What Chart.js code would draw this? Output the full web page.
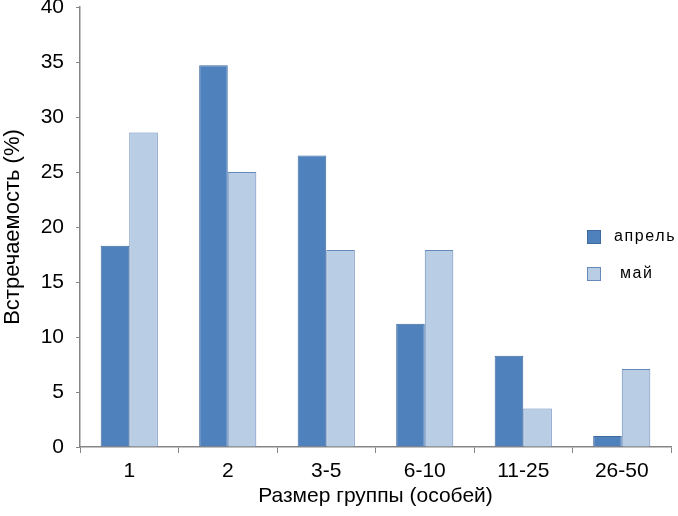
<!DOCTYPE html>
<html>
<head>
<meta charset="utf-8">
<script src="https://cdn.jsdelivr.net/npm/chart.js@4.4.1/dist/chart.umd.min.js"></script>
<style>
  html, body { margin: 0; padding: 0; background: #fff; }
  #wrap { width: 678px; height: 516px; }
</style>
</head>
<body>
<div id="wrap"><canvas id="groupChart"></canvas></div>
<script>
// Group sizes on the x axis
const categories = ['1', '2', '3-5', '6-10', '11-25', '26-50'];
// Frequency (%) per month
const aprilValues = [18.3, 34.7, 26.5, 11.2, 8.3, 1.0];
const mayValues = [28.6, 25.0, 17.9, 17.9, 3.5, 7.1];
const seriesNames = ['апрель', 'май'];

const FONT = '"Liberation Sans", Arial, sans-serif';
const AXIS_COLOR = '#868686';

//Draws the legend inside the plot area, on the right side
const sideLegend = {
    id: 'sideLegend',
    afterDraw(chart) {
        const ctx = chart.ctx;
        const rows = [230, 267];
        ctx.save();
        chart.data.datasets.forEach((ds, i) => {
            const y = rows[i];
            ctx.fillStyle = ds.backgroundColor;
            ctx.strokeStyle = ds.borderColor;
            ctx.lineWidth = 1;
            ctx.fillRect(587, y, 14, 14);
            ctx.strokeRect(587.5, y + 0.5, 13, 13);
            ctx.fillStyle = '#000';
            ctx.font = '16px ' + FONT;
            ctx.letterSpacing = '1.6px';
            ctx.textBaseline = 'middle';
            ctx.fillText(ds.label, i == 0 ? 614 : 620, y + 7);
        });
        ctx.restore();
    }
};

new Chart(document.getElementById('groupChart'), {
    type: 'bar',
    data: {
        labels: categories,
        datasets: [{
            label: seriesNames[0],
            data: aprilValues,
            backgroundColor: '#4f81bd',
            borderColor: '#3e6aa0',
            borderWidth: 1,
            categoryPercentage: 0.58,
            barPercentage: 1.0
        },
        {
            label: seriesNames[1],
            data: mayValues,
            backgroundColor: '#b9cde5',
            borderColor: '#6589bb',
            borderWidth: 1,
            categoryPercentage: 0.58,
            barPercentage: 1.0
        }]
    },
    options: {
        responsive: true,
        maintainAspectRatio: false,
        animation: false,
        layout: { padding: { top: 7, right: 7, left: 0, bottom: 0 } },
        plugins: {
            legend: { display: false },
            tooltip: { enabled: false }
        },
        scales: {
            x: {
                grid: {
                    offset: true,
                    drawOnChartArea: false,
                    drawTicks: true,
                    tickLength: 6,
                    color: AXIS_COLOR
                },
                border: { color: AXIS_COLOR, width: 1.5 },
                ticks: {
                    color: '#000',
                    font: { family: FONT, size: 21 },
                    padding: 6
                },
                title: {
                    display: true,
                    text: 'Размер группы (особей)',
                    color: '#000',
                    font: { family: FONT, size: 21 },
                    padding: { top: 2, bottom: 7 }
                },
                afterFit(scale) {
                    scale.height = 69;
                    scale.paddingLeft = 0;
                    scale.paddingRight = 0;
                }
            },
            y: {
                min: 0,
                max: 40,
                ticks: {
                    stepSize: 5,
                    color: '#000',
                    font: { family: FONT, size: 21 },
                    padding: 12
                },
                grid: {
                    drawOnChartArea: false,
                    drawTicks: true,
                    tickLength: 4,
                    color: AXIS_COLOR
                },
                border: { color: AXIS_COLOR, width: 1.5 },
                title: {
                    display: true,
                    text: 'Встречаемость (%)',
                    color: '#000',
                    font: { family: FONT, size: 22 },
                    padding: { top: 0, bottom: 0 }
                },
                afterFit(scale) {
                    scale.width = 80;
                    scale.paddingTop = 0;
                    scale.paddingBottom = 0;
                }
            }
        }
    },
    plugins: [sideLegend]
});
</script>
</body>
</html>
